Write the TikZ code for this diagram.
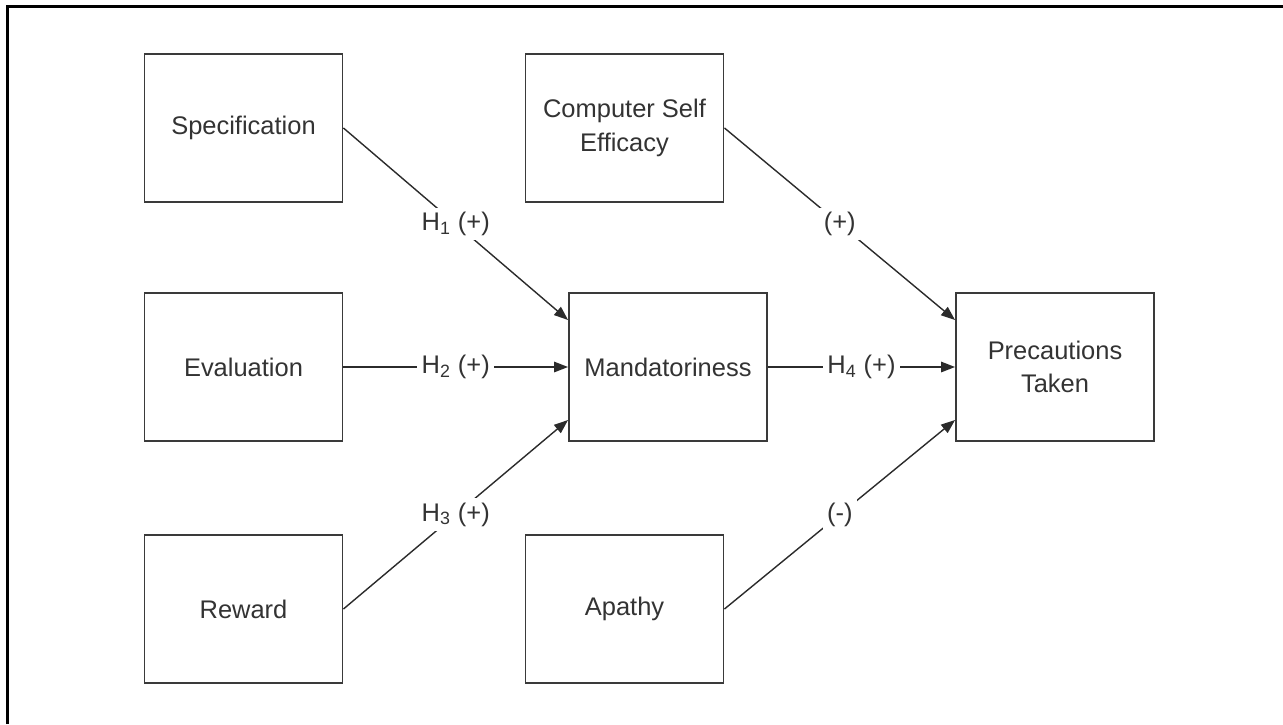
\documentclass[tikz,border=0pt]{standalone}
\usepackage{fontspec}
\setmainfont{Liberation Sans}
\usetikzlibrary{arrows.meta,calc}
\definecolor{BoxGray}{HTML}{3A3A3A}
\definecolor{LinkGray}{HTML}{2B2B2B}
\definecolor{LabelGray}{HTML}{333333}

\begin{document}
\begin{tikzpicture}[x=0.02cm, y=-0.02cm, >={Triangle[length=8pt,width=6pt]},
    construct/.style={draw=BoxGray, line width=1.1pt, minimum width=3.96cm,
      minimum height=2.96cm, align=center, text=LabelGray,
      font=\fontsize{14.5}{19}\selectfont},
    link/.style={->, draw=LinkGray, line width=0.8pt},
    hyp/.style={fill=white, inner sep=2.5pt, text=LabelGray,
      font=\fontsize{14.5}{17}\selectfont}]
  \useasboundingbox (0,0) rectangle (1283,724);
  % Frame: only the top and left rules are printed.
  \draw[black, line width=1.15pt] (7.5,724) |- (1283,6.5);

  % Antecedents on the left.
  \node[construct] (spec) at (243.5,128) {Specification};
  \node[construct] (eval) at (243.5,367) {Evaluation};
  \node[construct] (reward) at (243.5,609) {Reward};

  % Middle column.
  \node[construct] (cse) at (624.5,128) {Computer Self\\Efficacy};
  \node[construct] (mand) at (668,367) {Mandatoriness};
  \node[construct] (apathy) at (624.5,609) {Apathy};

  % Outcome.
  \node[construct] (prec) at (1055,367) {Precautions\\Taken};

  \coordinate (mandhi) at ($(mand.west)+(0,-47)$);
  \coordinate (mandlo) at ($(mand.west)+(0,53)$);
  \coordinate (prechi) at ($(prec.west)+(0,-47)$);
  \coordinate (preclo) at ($(prec.west)+(0,53)$);

  \draw[link] (spec.east) -- node[hyp] {H\textsubscript{1} (+)} (mandhi);
  \draw[link] (eval.east) -- node[hyp] {H\textsubscript{2} (+)} (mand.west);
  \draw[link] (reward.east) -- node[hyp] {H\textsubscript{3} (+)} (mandlo);
  \draw[link] (mand.east) -- node[hyp] {H\textsubscript{4} (+)} (prec.west);
  \draw[link] (cse.east) -- node[hyp] {(+)} (prechi);
  \draw[link] (apathy.east) -- node[hyp] {(-)} (preclo);
\end{tikzpicture}
\end{document}
